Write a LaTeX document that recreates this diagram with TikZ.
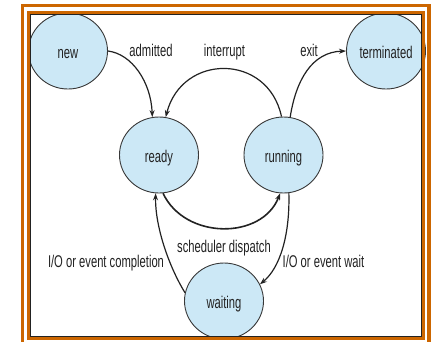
\documentclass[tikz,border=0pt]{standalone}
\usepackage{fontspec}
\setmainfont[FakeStretch=0.66]{Liberation Sans}
\usetikzlibrary{shapes.geometric,arrows.meta}
\definecolor{frameorange}{RGB}{204,102,0}
\definecolor{statefill}{RGB}{204,232,246}
\definecolor{ink}{RGB}{34,34,34}
\tikzset{
  state/.style={ellipse, draw=ink!90, line width=0.9pt, fill=statefill,
    minimum width=79pt, minimum height=76pt, inner sep=0pt,
    font=\fontsize{17}{17}\selectfont, text=ink, text height=15pt, text depth=0pt},
  lbl/.style={anchor=base, inner sep=0pt, font=\fontsize{17}{17}\selectfont, text=ink},
  trans/.style={draw=ink, line width=1.2pt, -{Stealth[length=7pt,width=5pt]}},
  frameline/.style={draw=frameorange, line width=3.3pt}
}
\begin{document}
\begin{tikzpicture}[x=1pt,y=-1pt]
\useasboundingbox (0,0) rectangle (436,341);
\fill[white] (0,0) rectangle (436,341);
% states
\node[state] (new) at (68,51) {new};
\node[state] (term) at (386,51) {terminated};
\node[state] (ready) at (159,155) {ready};
\node[state] (run) at (283.5,155) {running};
\node[state] (wait) at (224,301) {waiting};
% transitions
\draw[trans] (new.east) .. controls (132,54) and (151,82) .. (ready.100);
\draw[trans] (run.93) .. controls (268,53) and (182,53) .. (ready.80);
\draw[trans] (run.80) .. controls (296,80) and (312,52) .. (term.west);
\draw[trans, line width=1.6pt] (ready.-84) .. controls (185,240) and (262,240) .. (run.-95);
\draw[trans] (wait.168) .. controls (168,265) and (155,225) .. (ready.-95);
\draw[trans] (run.-82) .. controls (290,235) and (280,268) .. (wait.25);
% labels
\node[lbl] (l1) at (151,56) {admitted};
\node[lbl] (l2) at (224.5,56) {interrupt};
\node[lbl] (l3) at (309,56) {exit};
\node[lbl] (l4) at (224,252.5) {scheduler dispatch};
\node[lbl] (l5) at (106,267) {I/O or event completion};
\node[lbl] (l6) at (323.5,267) {I/O or event wait};
% frame
\draw[frameline] (22.3,345) -- (22.3,5.7) -- (429,5.7) -- (429,345);
\draw[frameline] (28.3,12.3) rectangle (423,338.5);
\draw[ink, line width=0.6pt] (30.3,14.3) rectangle (421,336.5);
\end{tikzpicture}
\end{document}
